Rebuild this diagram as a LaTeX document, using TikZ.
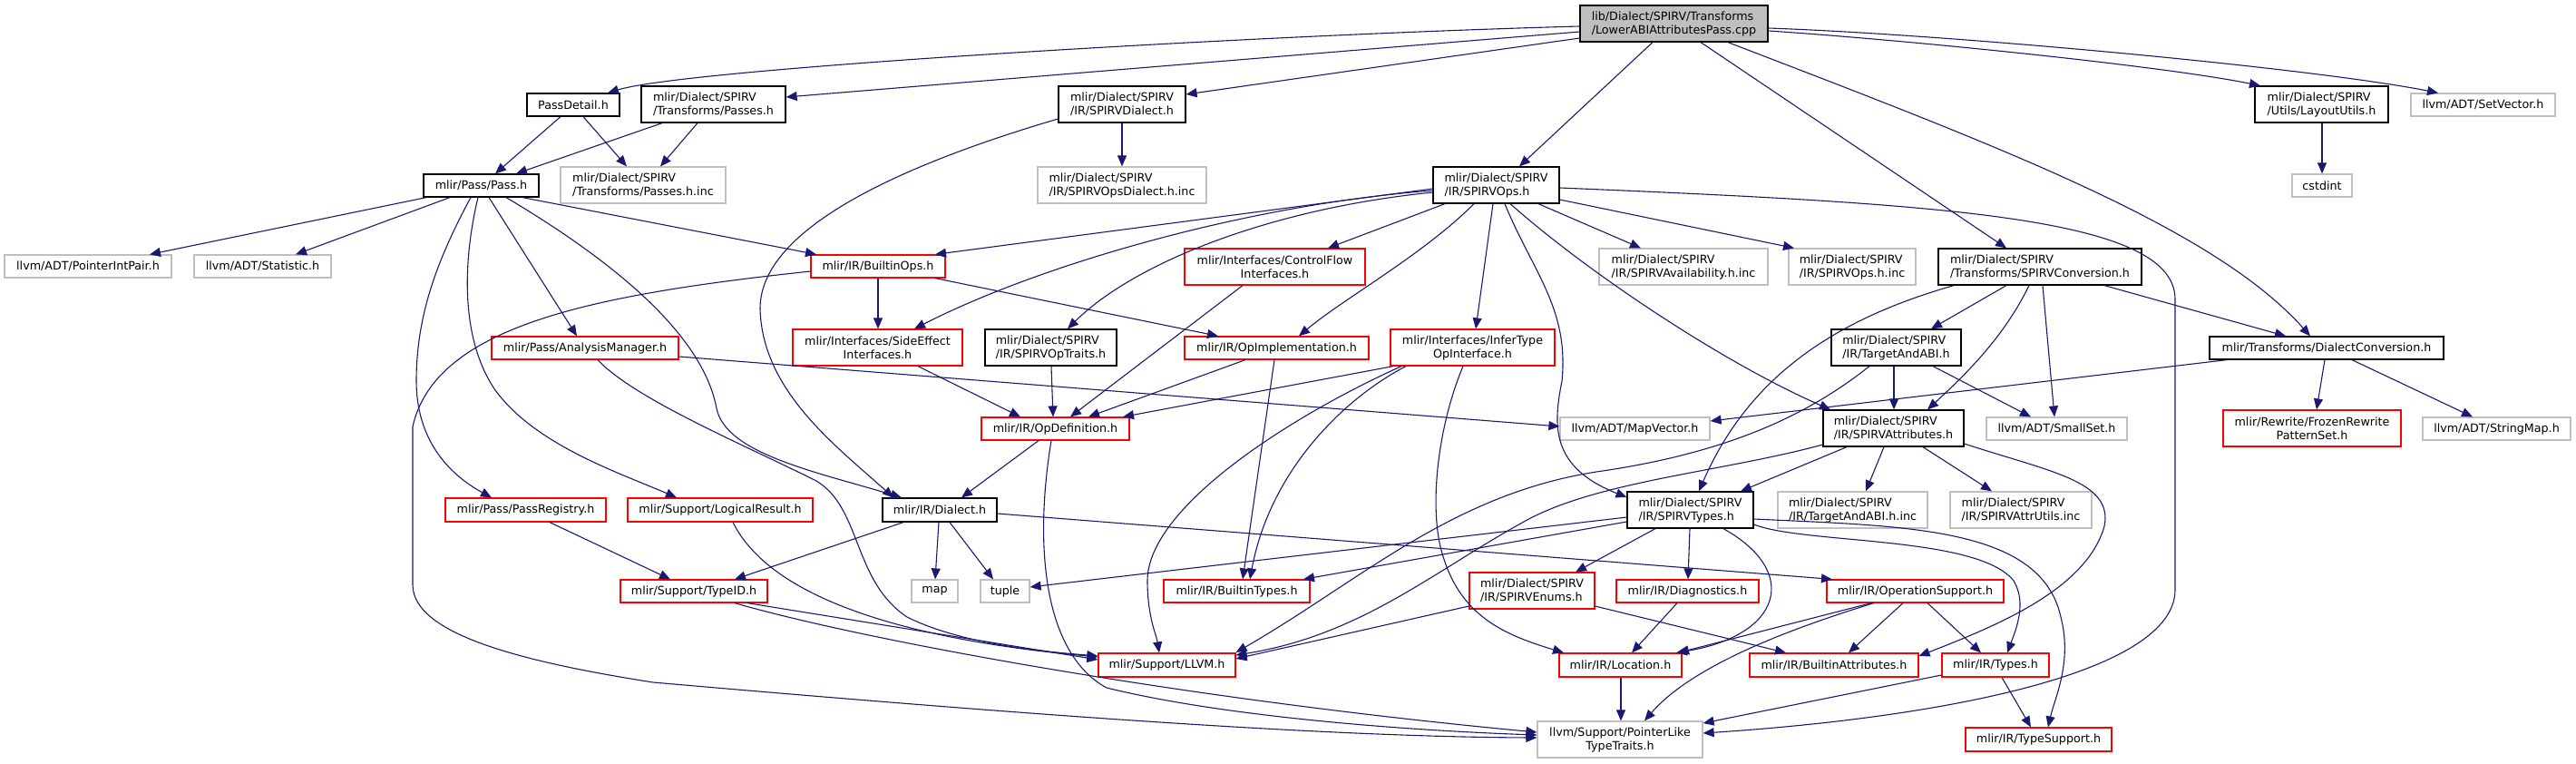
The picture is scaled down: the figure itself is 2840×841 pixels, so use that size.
\documentclass[tikz,border=0pt]{standalone}
\usepackage{fontspec}
\setmainfont{DejaVu Sans}
\usetikzlibrary{arrows.meta}
\definecolor{edgec}{HTML}{191970}
\definecolor{greyb}{HTML}{BFBFBF}
\definecolor{redb}{HTML}{FF0000}
\newcommand\mknode[7]{\node[#2,minimum width={(#5-#3)*1pt},minimum height={(#6-#4)*1pt}] (#1) at ({(#3+#5)/2},{(#4+#6)/2}) {#7};}
\tikzset{
  box/.style={draw, rectangle, inner sep=0pt, fill=white, line width=1.2pt, font=\fontsize{12.7pt}{15pt}\selectfont, align=center},
  blk/.style={box, draw=black},
  blkl/.style={blk, align=left},
  gry/.style={box, draw=greyb},
  gryl/.style={gry, align=left},
  rd/.style={box, draw=redb},
  rdl/.style={rd, align=left},
  rootbox/.style={blkl, fill=greyb},
  e/.style={draw=edgec, line width=1.1pt, -{Triangle[length=12pt,width=10pt]}}
}
\begin{document}
\begin{tikzpicture}[x=1pt,y=-1pt]
\useasboundingbox (0,0) rectangle (2840,841);
% nodes
\mknode{root}{rootbox}{1742}{6}{1949}{46}{lib/Dialect/SPIRV/Transforms\\/LowerABIAttributesPass.cpp}
\mknode{pd}{blk}{581}{103}{683}{128}{PassDetail.h}
\mknode{tp}{blkl}{707}{95}{866}{135}{mlir/Dialect/SPIRV\\/Transforms/Passes.h}
\mknode{sd}{blkl}{1167}{95}{1307}{135}{mlir/Dialect/SPIRV\\/IR/SPIRVDialect.h}
\mknode{lu}{blkl}{2486}{95}{2633}{135}{mlir/Dialect/SPIRV\\/Utils/LayoutUtils.h}
\mknode{sv}{gry}{2658}{103}{2817}{128}{llvm/ADT/SetVector.h}
\mknode{pass}{blk}{467}{192}{594}{217}{mlir/Pass/Pass.h}
\mknode{pinc}{gryl}{618}{184}{800}{224}{mlir/Dialect/SPIRV\\/Transforms/Passes.h.inc}
\mknode{odinc}{gryl}{1144}{184}{1330}{224}{mlir/Dialect/SPIRV\\/IR/SPIRVOpsDialect.h.inc}
\mknode{ops}{blkl}{1580}{184}{1719}{224}{mlir/Dialect/SPIRV\\/IR/SPIRVOps.h}
\mknode{cst}{gry}{2527}{192}{2593}{217}{cstdint}
\mknode{pip}{gry}{5}{281}{189}{306}{llvm/ADT/PointerIntPair.h}
\mknode{stat}{gry}{214}{281}{365}{306}{llvm/ADT/Statistic.h}
\mknode{bops}{rd}{894}{281}{1042}{306}{mlir/IR/BuiltinOps.h}
\mknode{cfi}{rd}{1306}{274}{1505}{314}{mlir/Interfaces/ControlFlow\\Interfaces.h}
\mknode{avail}{gryl}{1763}{274}{1949}{314}{mlir/Dialect/SPIRV\\/IR/SPIRVAvailability.h.inc}
\mknode{opsinc}{gryl}{1972}{274}{2112}{314}{mlir/Dialect/SPIRV\\/IR/SPIRVOps.h.inc}
\mknode{conv}{blkl}{2137}{274}{2361}{314}{mlir/Dialect/SPIRV\\/Transforms/SPIRVConversion.h}
\mknode{am}{rd}{542}{371}{748}{396}{mlir/Pass/AnalysisManager.h}
\mknode{sei}{rd}{874}{363}{1061}{403}{mlir/Interfaces/SideEffect\\Interfaces.h}
\mknode{traits}{blkl}{1086}{363}{1231}{403}{mlir/Dialect/SPIRV\\/IR/SPIRVOpTraits.h}
\mknode{impl}{rd}{1306}{371}{1509}{396}{mlir/IR/OpImplementation.h}
\mknode{infer}{rd}{1533}{363}{1714}{403}{mlir/Interfaces/InferType\\OpInterface.h}
\mknode{tabi}{blkl}{2019}{363}{2162}{403}{mlir/Dialect/SPIRV\\/IR/TargetAndABI.h}
\mknode{dc}{blk}{2436}{371}{2694}{396}{mlir/Transforms/DialectConversion.h}
\mknode{opdef}{rd}{1082}{460}{1245}{485}{mlir/IR/OpDefinition.h}
\mknode{mv}{gry}{1720}{460}{1885}{485}{llvm/ADT/MapVector.h}
\mknode{attr}{blkl}{2010}{452}{2165}{492}{mlir/Dialect/SPIRV\\/IR/SPIRVAttributes.h}
\mknode{ss}{gry}{2190}{460}{2345}{485}{llvm/ADT/SmallSet.h}
\mknode{frp}{rd}{2451}{452}{2647}{492}{mlir/Rewrite/FrozenRewrite\\PatternSet.h}
\mknode{sm}{gry}{2671}{460}{2834}{485}{llvm/ADT/StringMap.h}
\mknode{preg}{rd}{491}{549}{668}{575}{mlir/Pass/PassRegistry.h}
\mknode{lr}{rd}{692}{549}{896}{575}{mlir/Support/LogicalResult.h}
\mknode{dia}{blk}{973}{549}{1099}{575}{mlir/IR/Dialect.h}
\mknode{types}{blkl}{1794}{542}{1933}{582}{mlir/Dialect/SPIRV\\/IR/SPIRVTypes.h}
\mknode{tabiinc}{gryl}{1960}{542}{2125}{582}{mlir/Dialect/SPIRV\\/IR/TargetAndABI.h.inc}
\mknode{autils}{gryl}{2150}{542}{2306}{582}{mlir/Dialect/SPIRV\\/IR/SPIRVAttrUtils.inc}
\mknode{tid}{rd}{684}{639}{846}{664}{mlir/Support/TypeID.h}
\mknode{map}{gry}{1005}{639}{1056}{664}{map}
\mknode{tuple}{gry}{1081}{639}{1135}{664}{tuple}
\mknode{btypes}{rd}{1283}{639}{1444}{664}{mlir/IR/BuiltinTypes.h}
\mknode{enums}{rdl}{1620}{631}{1758}{671}{mlir/Dialect/SPIRV\\/IR/SPIRVEnums.h}
\mknode{diag}{rd}{1782}{639}{1939}{664}{mlir/IR/Diagnostics.h}
\mknode{osup}{rd}{2014}{639}{2209}{664}{mlir/IR/OperationSupport.h}
\mknode{llvm}{rd}{1211}{720}{1362}{746}{mlir/Support/LLVM.h}
\mknode{loc}{rd}{1719}{720}{1854}{746}{mlir/IR/Location.h}
\mknode{battr}{rd}{1929}{720}{2115}{746}{mlir/IR/BuiltinAttributes.h}
\mknode{ty}{rd}{2141}{720}{2259}{746}{mlir/IR/Types.h}
\mknode{plt}{gry}{1695}{795}{1877}{835}{llvm/Support/PointerLike\\TypeTraits.h}
\mknode{ts}{rd}{2167}{802}{2328}{828}{mlir/IR/TypeSupport.h}
% edges from root
\draw[e] (root.west |- 0,29) .. controls (1400,38) and (760,75) .. (pd.north -| 670,0);
\draw[e] (root.west |- 0,35) -- (tp.east |- 0,107);
\draw[e] (root.west |- 0,42) -- (sd.east |- 0,104);
\draw[e] (root.south -| 1822,0) -- (ops.north -| 1675,0);
\draw[e] (root.south -| 1875,0) -- (conv.north -| 2212,0);
\draw[e] (root.south -| 1905,0) .. controls (2200,160) and (2440,250) .. (dc.north -| 2547,0);
\draw[e] (root.east |- 0,34) .. controls (2100,44) and (2380,72) .. (lu.north -| 2492,0);
\draw[e] (root.east |- 0,31) .. controls (2150,38) and (2550,75) .. (sv.north -| 2688,0);
% PassDetail, Passes
\draw[e] (pd.south -| 618,0) -- (pass.north -| 546,0);
\draw[e] (pd.south -| 643,0) -- (pinc.north -| 691,0);
\draw[e] (tp.south -| 730,0) -- (pass.north -| 569,0);
\draw[e] (tp.south -| 769,0) -- (pinc.north -| 728,0);
\draw[e] (sd.south -| 1237,0) -- (odinc.north -| 1237,0);
\draw[e] (sd.west |- 0,131) .. controls (1000,180) and (838,250) .. (838,340) .. controls (840,430) and (920,490) .. (dia.north -| 985,0);
\draw[e] (lu.south -| 2560,0) -- (cst.north -| 2560,0);
% Pass.h
\draw[e] (pass.south -| 470,0) -- (pip.north -| 165,0);
\draw[e] (pass.south -| 496,0) -- (stat.north -| 326,0);
\draw[e] (pass.south -| 576,0) -- (bops.north -| 900,0);
\draw[e] (pass.south -| 539,0) -- (am.north -| 636,0);
\draw[e] (pass.south -| 519,0) .. controls (480,290) and (459,350) .. (459,420) .. controls (459,480) and (490,520) .. (preg.north -| 542,0);
\draw[e] (pass.south -| 527,0) .. controls (512,280) and (505,370) .. (546,430) .. controls (590,490) and (680,520) .. (lr.north -| 746,0);
\draw[e] (pass.south -| 558,0) .. controls (680,290) and (775,370) .. (790,450) .. controls (800,500) and (900,520) .. (dia.north -| 994,0);
% BuiltinOps
\draw[e] (bops.south -| 968,0) -- (sei.north -| 968,0);
\draw[e] (bops.south -| 1031,0) -- (impl.north -| 1343,0);
\draw[e] (bops.west |- 0,299) .. controls (650,325) and (480,360) .. (455,470) -- (455,645) .. controls (456,700) and (580,730) .. (720,752) .. controls (1100,785) and (1450,812) .. (plt.west |- 0,813);
% SPIRVOps
\draw[e] (ops.west |- 0,208) -- (bops.north -| 1031,0);
\draw[e] (ops.west |- 0,210) .. controls (1380,225) and (1150,290) .. (sei.north -| 1008,0);
\draw[e] (ops.west |- 0,212) .. controls (1400,230) and (1250,290) .. (traits.north -| 1177,0);
\draw[e] (ops.south -| 1593,0) -- (cfi.north -| 1464,0);
\draw[e] (ops.south -| 1625,0) .. controls (1570,280) and (1480,330) .. (impl.north -| 1432,0);
\draw[e] (ops.south -| 1646,0) -- (infer.north -| 1627,0);
\draw[e] (ops.south -| 1659,0) .. controls (1690,300) and (1730,340) .. (1722,420) .. controls (1712,470) and (1710,515) .. (types.west |- 0,548);
\draw[e] (ops.south -| 1665,0) .. controls (1750,300) and (1900,400) .. (attr.north -| 2018,0);
\draw[e] (ops.south -| 1696,0) -- (avail.north -| 1809,0);
\draw[e] (ops.east |- 0,220) -- (opsinc.north -| 1978,0);
\draw[e] (ops.east |- 0,207) .. controls (2150,225) and (2398,240) .. (2398,330) -- (2398,650) .. controls (2398,740) and (2150,790) .. (plt.east |- 0,808);
% interfaces to OpDefinition
\draw[e] (cfi.south -| 1370,0) -- (opdef.north -| 1180,0);
\draw[e] (sei.south -| 1012,0) -- (opdef.north -| 1125,0);
\draw[e] (traits.south -| 1159,0) -- (opdef.north -| 1161,0);
\draw[e] (impl.south -| 1373,0) -- (opdef.north -| 1200,0);
\draw[e] (impl.south -| 1405,0) -- (btypes.north -| 1370,0);
\draw[e] (infer.south -| 1536,0) -- (opdef.north -| 1238,0);
\draw[e] (infer.south -| 1550,0) .. controls (1480,440) and (1400,520) .. (btypes.north -| 1378,0);
\draw[e] (infer.south -| 1545,0) .. controls (1420,460) and (1265,560) .. (1265,640) .. controls (1265,680) and (1275,700) .. (llvm.north -| 1278,0);
\draw[e] (infer.south -| 1613,0) .. controls (1585,470) and (1575,560) .. (1590,610) .. controls (1610,680) and (1660,700) .. (loc.north -| 1724,0);
% OpDefinition
\draw[e] (opdef.south -| 1145,0) -- (dia.north -| 1060,0);
\draw[e] (opdef.south -| 1159,0) .. controls (1140,600) and (1150,720) .. (1220,758) .. controls (1350,790) and (1550,805) .. (plt.west |- 0,810);
% AnalysisManager, LogicalResult, PassRegistry, TypeID
\draw[e] (am.south -| 659,0) .. controls (700,440) and (820,490) .. (900,530) .. controls (950,560) and (940,640) .. (1000,680) .. controls (1060,710) and (1150,718) .. (llvm.west |- 0,723);
\draw[e] (am.east |- 0,393) -- (mv.west |- 0,470);
\draw[e] (preg.south -| 606,0) -- (tid.north -| 739,0);
\draw[e] (lr.south -| 808,0) .. controls (850,660) and (1000,705) .. (llvm.west |- 0,724);
\draw[e] (tid.south -| 824,0) -- (llvm.west |- 0,727);
\draw[e] (tid.south -| 810,0) .. controls (950,705) and (1300,770) .. (plt.west |- 0,807);
% Dialect
\draw[e] (dia.south -| 996,0) -- (tid.north -| 810,0);
\draw[e] (dia.south -| 1035,0) -- (map.north -| 1031,0);
\draw[e] (dia.south -| 1047,0) -- (tuple.north -| 1095,0);
\draw[e] (dia.east |- 0,566) -- (osup.north -| 2020,0);
% SPIRVTypes
\draw[e] (types.west |- 0,570) -- (tuple.east |- 0,647);
\draw[e] (types.west |- 0,575) -- (btypes.north -| 1437,0);
\draw[e] (types.south -| 1825,0) -- (enums.north -| 1737,0);
\draw[e] (types.south -| 1863,0) -- (diag.north -| 1861,0);
\draw[e] (types.south -| 1900,0) .. controls (1985,630) and (1965,700) .. (loc.north -| 1848,0);
\draw[e] (types.east |- 0,578) .. controls (1990,600) and (2180,590) .. (2220,640) .. controls (2235,665) and (2222,695) .. (ty.north -| 2213,0);
\draw[e] (types.east |- 0,572) .. controls (2100,580) and (2250,580) .. (2272,680) .. controls (2285,730) and (2265,770) .. (ts.north -| 2258,0);
% SPIRVAttributes
\draw[e] (attr.south -| 2036,0) -- (types.north -| 1919,0);
\draw[e] (attr.south -| 2077,0) -- (tabiinc.north -| 2057,0);
\draw[e] (attr.south -| 2120,0) -- (autils.north -| 2196,0);
\draw[e] (attr.east |- 0,489) .. controls (2260,520) and (2330,530) .. (2320,580) .. controls (2300,650) and (2200,690) .. (battr.east |- 0,723);
\draw[e] (attr.west |- 0,490) .. controls (1900,520) and (1760,530) .. (1680,575) .. controls (1580,630) and (1500,700) .. (llvm.east |- 0,722);
% TargetAndABI
\draw[e] (tabi.south -| 2061,0) .. controls (1990,460) and (1900,500) .. (1760,520) .. controls (1600,545) and (1500,640) .. (llvm.east |- 0,719);
\draw[e] (tabi.south -| 2088,0) -- (attr.north -| 2088,0);
\draw[e] (tabi.south -| 2131,0) -- (ss.north -| 2239,0);
% SPIRVEnums, Diagnostics, OperationSupport, Location, Types
\draw[e] (enums.west |- 0,668) -- (llvm.east |- 0,726);
\draw[e] (enums.east |- 0,668) -- (battr.north -| 1969,0);
\draw[e] (diag.south -| 1849,0) -- (loc.north -| 1799,0);
\draw[e] (osup.south -| 2063,0) -- (loc.north -| 1850,0);
\draw[e] (osup.south -| 2066,0) .. controls (1950,700) and (1860,740) .. (plt.north -| 1813,0);
\draw[e] (osup.south -| 2098,0) -- (battr.north -| 2038,0);
\draw[e] (osup.south -| 2125,0) -- (ty.north -| 2184,0);
\draw[e] (loc.south -| 1787,0) -- (plt.north -| 1787,0);
\draw[e] (ty.west |- 0,744) -- (plt.east |- 0,797);
\draw[e] (ty.south -| 2207,0) -- (ts.north -| 2239,0);
% SPIRVConversion
\draw[e] (conv.south -| 2154,0) .. controls (2030,350) and (1930,410) .. (types.north -| 1873,0);
\draw[e] (conv.south -| 2212,0) -- (tabi.north -| 2129,0);
\draw[e] (conv.south -| 2237,0) .. controls (2210,370) and (2170,410) .. (attr.north -| 2125,0);
\draw[e] (conv.south -| 2252,0) -- (ss.north -| 2265,0);
\draw[e] (conv.south -| 2320,0) -- (dc.north -| 2520,0);
% DialectConversion
\draw[e] (dc.south -| 2455,0) -- (mv.east |- 0,464);
\draw[e] (dc.south -| 2563,0) -- (frp.north -| 2554,0);
\draw[e] (dc.south -| 2593,0) -- (sm.north -| 2726,0);
\end{tikzpicture}
\end{document}
